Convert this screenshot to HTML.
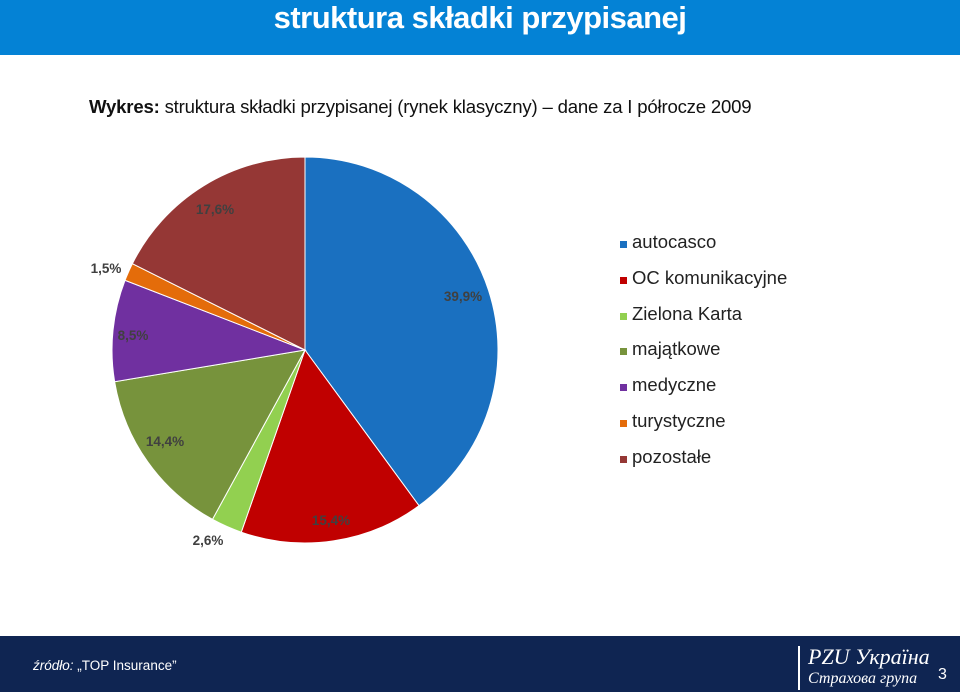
<!DOCTYPE html>
<html><head><meta charset="utf-8"><style>
body{margin:0;width:960px;height:692px;position:relative;background:#fff;font-family:"Liberation Sans",sans-serif;overflow:hidden}
#hdr{position:absolute;left:0;top:0;width:960px;height:55px;background:#0482d5}
#hdr h1{margin:0;text-align:center;color:#fff;font-size:31px;font-weight:bold;line-height:36px;letter-spacing:-0.5px}
#sub{position:absolute;left:89px;top:96px;font-size:18.6px;color:#111;letter-spacing:-0.2px;white-space:nowrap}
#ftr{position:absolute;left:0;top:636px;width:960px;height:56px;background:#0f2552}
#src{position:absolute;left:33px;top:22px;color:#fff;font-size:13.5px}
#logo{position:absolute;left:798px;top:10px;border-left:2px solid #fff;padding-left:8px;color:#fff;font-family:"Liberation Serif",serif;font-style:italic;line-height:22px}
#pg{position:absolute;left:938px;top:30px;color:#fff;font-size:16px}
.leg{position:absolute;left:620px;font-size:18.5px;color:#222}
.leg span{position:absolute;left:0;top:6px;width:7px;height:7px}
.leg b{font-weight:normal;position:absolute;left:12px;top:-4px;white-space:nowrap}
</style></head><body>
<div id="hdr"><h1>struktura składki przypisanej</h1></div>
<div id="sub"><b>Wykres:</b> struktura składki przypisanej (rynek klasyczny) – dane za I półrocze 2009</div>
<svg id="pie" width="960" height="692" style="position:absolute;left:0;top:0"></svg>
<div id="legend"></div>
<div id="ftr">
<div id="src"><i>źródło:</i> „TOP Insurance”</div>
<div id="logo"><div style="font-size:22px">PZU Україна</div><div style="font-size:16px">Страхова група</div></div>
<div id="pg">3</div>
</div>
<script>
const categories=["autocasco","OC komunikacyjne","Zielona Karta","majątkowe","medyczne","turystyczne","pozostałe"];
const values=[39.9,15.4,2.6,14.4,8.5,1.5,17.6];
const valueLabels=["39,9%","15,4%","2,6%","14,4%","8,5%","1,5%","17,6%"];
const colors=["#1a70c0","#c00000","#92d050","#77933c","#7030a0","#e46c0a","#953735"];
const labelPos=[[463,296],[331,520],[208,540],[165,441],[133,335],[106,268],[215,209]];
const cx=305,cy=350,r=193,ns="http://www.w3.org/2000/svg";
const svg=document.getElementById('pie');
const total=values.reduce((a,b)=>a+b,0);
let acc=0;
function pt(f){const a=f*2*Math.PI;return [cx+r*Math.sin(a),cy-r*Math.cos(a)];}
values.forEach((v,i)=>{
 const f0=acc/total;acc+=v;const f1=acc/total;
 const p0=pt(f0),p1=pt(f1);
 const p=document.createElementNS(ns,'path');
 p.setAttribute('d',`M${cx},${cy}L${p0[0]},${p0[1]}A${r},${r} 0 ${(f1-f0)>0.5?1:0} 1 ${p1[0]},${p1[1]}Z`);
 p.setAttribute('fill',colors[i]);p.setAttribute('stroke','#fff');p.setAttribute('stroke-width','1');
 
 
 svg.appendChild(p);
 const t=document.createElementNS(ns,'text');
 t.setAttribute('x',labelPos[i][0]);t.setAttribute('y',labelPos[i][1]+5);
 t.setAttribute('text-anchor','middle');t.setAttribute('font-size','13.5');t.setAttribute('font-weight','bold');
 t.setAttribute('fill','#404040');t.setAttribute('font-family','Liberation Sans, sans-serif');
 t.textContent=valueLabels[i];
 
 
 svg.appendChild(t);
});
const lg=document.getElementById('legend');
categories.forEach((c,i)=>{
 const d=document.createElement('div');d.className='leg';d.style.top=(235+i*35.8)+'px';
 d.innerHTML=`<span style="background:${colors[i]}"></span><b>${c}</b>`;
 
 
 lg.appendChild(d);
});
</script>
</body></html>
